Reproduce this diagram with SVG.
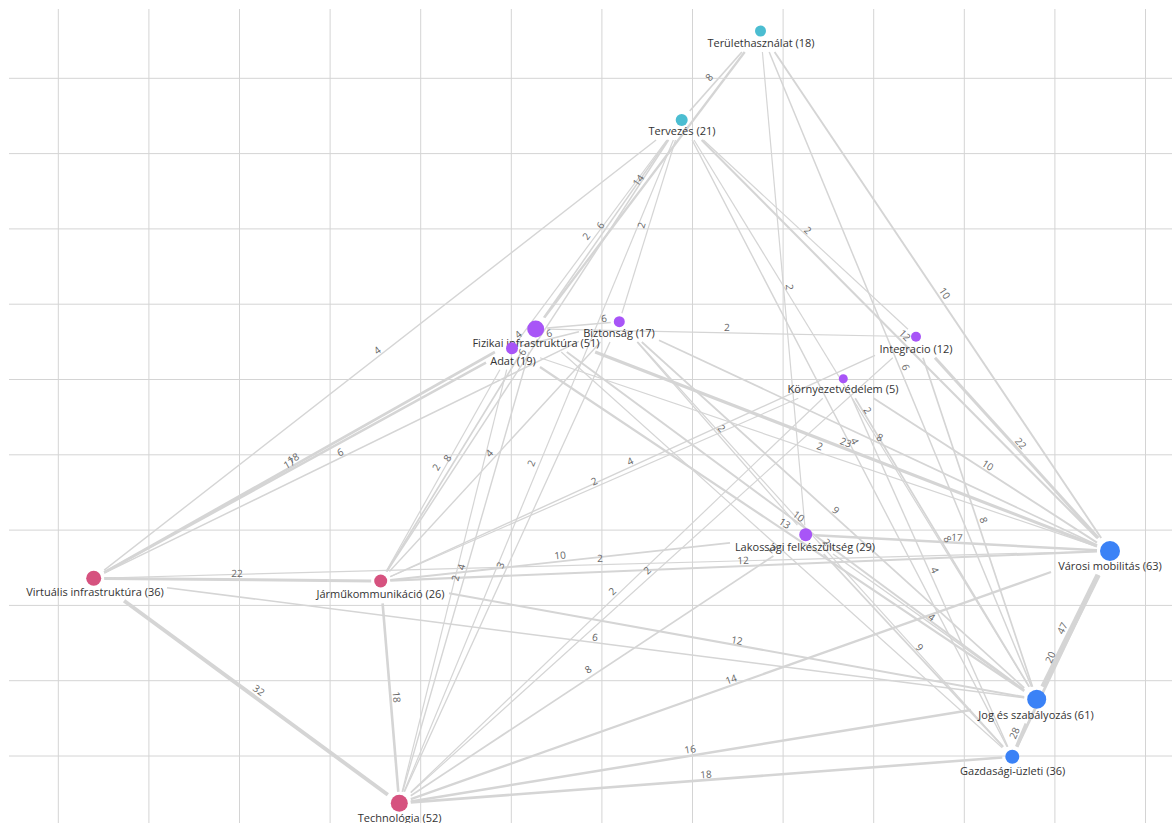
<svg xmlns="http://www.w3.org/2000/svg" width="1172" height="823" viewBox="0 0 1172 823">
<style>
.grid line{stroke:#d4d4d4;stroke-width:1}
#edges line{stroke:#d5d5d5;stroke-linecap:butt}
.w2{stroke-width:1.2}.w3{stroke-width:1.3}.w4{stroke-width:1.4}.w6{stroke-width:1.5}.w8{stroke-width:1.7}.w9{stroke-width:1.8}.w10{stroke-width:1.9}.w12{stroke-width:2.1}.w13{stroke-width:2.2}.w14{stroke-width:2.3}.w16{stroke-width:2.5}.w17{stroke-width:2.5}.w18{stroke-width:2.6}.w20{stroke-width:2.8}.w22{stroke-width:3}.w23{stroke-width:3.1}.w28{stroke-width:3.5}.w32{stroke-width:3.9}.w47{stroke-width:5.3}
.el{font-family:"Open Sans","Liberation Sans",sans-serif;font-size:10px;fill:#666;text-anchor:middle;dominant-baseline:central}
.nl{font-family:"Open Sans","Liberation Sans",sans-serif;font-size:11px;fill:#333;text-anchor:middle}
.teal{fill:#4bbdd1}.purple{fill:#a855f7}.blue{fill:#3b82f6}.pink{fill:#d6527f}
</style>
<rect width="1172" height="823" fill="#ffffff"/>
<g class="grid">
<line x1="58.3" y1="9" x2="58.3" y2="823"/><line x1="148.9" y1="9" x2="148.9" y2="823"/><line x1="239.5" y1="9" x2="239.5" y2="823"/><line x1="330.1" y1="9" x2="330.1" y2="823"/><line x1="420.7" y1="9" x2="420.7" y2="823"/><line x1="511.3" y1="9" x2="511.3" y2="823"/><line x1="601.9" y1="9" x2="601.9" y2="823"/><line x1="692.5" y1="9" x2="692.5" y2="823"/><line x1="783.1" y1="9" x2="783.1" y2="823"/><line x1="873.7" y1="9" x2="873.7" y2="823"/><line x1="964.3" y1="9" x2="964.3" y2="823"/><line x1="1054.9" y1="9" x2="1054.9" y2="823"/><line x1="1145.5" y1="9" x2="1145.5" y2="823"/>
<line x1="9" y1="78.3" x2="1172" y2="78.3"/><line x1="9" y1="153.6" x2="1172" y2="153.6"/><line x1="9" y1="228.9" x2="1172" y2="228.9"/><line x1="9" y1="304.2" x2="1172" y2="304.2"/><line x1="9" y1="379.5" x2="1172" y2="379.5"/><line x1="9" y1="454.8" x2="1172" y2="454.8"/><line x1="9" y1="530.1" x2="1172" y2="530.1"/><line x1="9" y1="605.4" x2="1172" y2="605.4"/><line x1="9" y1="680.7" x2="1172" y2="680.7"/><line x1="9" y1="756" x2="1172" y2="756"/>
</g>
<g id="edges">
<line class="w8" x1="741.9" y1="52" x2="689.7" y2="111"/>
<line class="w14" x1="744.7" y1="52" x2="544.4" y2="317.5"/>
<line class="w2" x1="762.4" y1="52" x2="804.8" y2="525.2"/>
<line class="w6" x1="769.2" y1="52" x2="1031.5" y2="686.8"/>
<line class="w10" x1="774.6" y1="52" x2="1101.2" y2="538"/>
<line class="w4" x1="656.1" y1="140" x2="104.2" y2="570.1"/>
<line class="w6" x1="667.7" y1="140" x2="543.7" y2="317.5"/>
<line class="w2" x1="666.9" y1="140" x2="518.7" y2="339.3"/>
<line class="w2" x1="675.5" y1="140" x2="621.9" y2="313.2"/>
<line class="w2" x1="673.4" y1="140" x2="404" y2="791.8"/>
<line class="w2" x1="703.4" y1="140" x2="908" y2="329.3"/>
<line class="w12" x1="701.6" y1="140" x2="1097.1" y2="538"/>
<line class="w2" x1="694" y1="140" x2="1029" y2="686.8"/>
<line class="w4" x1="692.1" y1="140" x2="1007.1" y2="746.7"/>
<line class="w4" x1="507.4" y1="352" x2="521" y2="341"/>
<line class="w6" x1="521" y1="346.1" x2="579" y2="331.7"/>
<line class="w6" x1="547.2" y1="328" x2="610.8" y2="322.4"/>
<line class="w2" x1="547.2" y1="329.2" x2="908" y2="336.5"/>
<line class="w18" x1="104.2" y1="572.4" x2="494.9" y2="352"/>
<line class="w17" x1="104.2" y1="572.5" x2="486" y2="362.6"/>
<line class="w6" x1="104.2" y1="573.2" x2="579" y2="341.4"/>
<line class="w8" x1="386.6" y1="571.5" x2="521.6" y2="352"/>
<line class="w2" x1="386.1" y1="571.5" x2="499.9" y2="369.7"/>
<line class="w4" x1="389.4" y1="571.5" x2="600.6" y2="342"/>
<line class="w6" x1="668.6" y1="140" x2="386.9" y2="571.5"/>
<line class="w4" x1="402.6" y1="791.8" x2="529.1" y2="352"/>
<line class="w2" x1="402.1" y1="791.8" x2="506.7" y2="369.7"/>
<line class="w3" x1="404.5" y1="791.8" x2="610" y2="342"/>
<line class="w2" x1="390.2" y1="576.8" x2="798.3" y2="398.3"/>
<line class="w4" x1="390.2" y1="576.7" x2="875" y2="355.4"/>
<line class="w2" x1="410.8" y1="792.3" x2="822.8" y2="398.3"/>
<line class="w2" x1="410.8" y1="792.9" x2="892.8" y2="357.7"/>
<line class="w8" x1="410.8" y1="795.7" x2="773.4" y2="556"/>
<line class="w6" x1="167" y1="587.7" x2="1024.2" y2="697.7"/>
<line class="w12" x1="449" y1="593.3" x2="1024.2" y2="697.1"/>
<line class="w14" x1="410.8" y1="799.2" x2="1051" y2="572"/>
<line class="w16" x1="410.8" y1="801.4" x2="971" y2="710"/>
<line class="w18" x1="410.8" y1="802.4" x2="1002.3" y2="757.5"/>
<line class="w32" x1="124.1" y1="600.7" x2="387.8" y2="794.8"/>
<line class="w18" x1="382.6" y1="603.3" x2="398.3" y2="791.8"/>
<line class="w22" x1="104.2" y1="578.4" x2="371.2" y2="580.9"/>
<line class="w47" x1="1098.1" y1="575" x2="1042.9" y2="686.8"/>
<line class="w20" x1="1098.6" y1="575" x2="1017.1" y2="746.7"/>
<line class="w28" x1="1026.3" y1="723.7" x2="1016.6" y2="746.7"/>
<line class="w17" x1="815.2" y1="535.2" x2="1097" y2="550.3"/>
<line class="w8" x1="855.2" y1="398.3" x2="1029.2" y2="686.8"/>
<line class="w8" x1="923" y1="357.7" x2="1032.5" y2="686.8"/>
<line class="w22" x1="935" y1="357.7" x2="1098.3" y2="538"/>
<line class="w10" x1="873.6" y1="398.3" x2="1097" y2="542.6"/>
<line class="w23" x1="595.2" y1="352" x2="1097" y2="546"/>
<line class="w2" x1="540" y1="357.8" x2="1097" y2="546.6"/>
<line class="w8" x1="659" y1="340.2" x2="1097" y2="545"/>
<line class="w2" x1="637.1" y1="342" x2="797.4" y2="525.2"/>
<line class="w2" x1="104.2" y1="578" x2="1097" y2="551.3"/>
<line class="w10" x1="390.2" y1="580" x2="730" y2="542.9"/>
<line class="w12" x1="390.2" y1="580.6" x2="1097" y2="551.5"/>
<line class="w4" x1="833" y1="554" x2="1024.2" y2="690.4"/>
<line class="w9" x1="823.7" y1="554" x2="1003" y2="746.7"/>
<line class="w9" x1="641.8" y1="342" x2="1024.2" y2="688"/>
<line class="w10" x1="566.8" y1="352" x2="1024.2" y2="690.1"/>
<line class="w13" x1="540" y1="367" x2="1024.2" y2="691"/>
<line class="w4" x1="852.1" y1="398.3" x2="1007.8" y2="746.7"/>
<line class="w2" x1="637.7" y1="342" x2="1003.3" y2="746.7"/>
<line class="w2" x1="561.3" y1="352" x2="1002.3" y2="747.7"/>
</g>
<g id="edge-labels">
<text class="el" x="709" y="77" transform="rotate(-48.5 709 77)">8</text>
<text class="el" x="638" y="180" transform="rotate(-53 638 180)">14</text>
<text class="el" x="790" y="287" transform="rotate(84.9 790 287)">2</text>
<text class="el" x="906" y="367" transform="rotate(67.5 906 367)">6</text>
<text class="el" x="945" y="293" transform="rotate(56.1 945 293)">10</text>
<text class="el" x="377" y="350" transform="rotate(-37.9 377 350)">4</text>
<text class="el" x="600" y="225" transform="rotate(-55 600 225)">6</text>
<text class="el" x="586" y="236" transform="rotate(-53.4 586 236)">2</text>
<text class="el" x="641" y="225" transform="rotate(-72.8 641 225)">2</text>
<text class="el" x="531" y="463" transform="rotate(-67.5 531 463)">2</text>
<text class="el" x="808" y="230" transform="rotate(42.8 808 230)">2</text>
<text class="el" x="905" y="335" transform="rotate(45.2 905 335)">12</text>
<text class="el" x="868" y="410" transform="rotate(58.5 868 410)">2</text>
<text class="el" x="855" y="441" transform="rotate(62.6 855 441)">4</text>
<text class="el" x="518" y="334" transform="rotate(-39.2 518 334)">4</text>
<text class="el" x="549" y="333" transform="rotate(-13.9 549 333)">6</text>
<text class="el" x="604" y="318" transform="rotate(-5 604 318)">6</text>
<text class="el" x="727" y="327" transform="rotate(1.2 727 327)">2</text>
<text class="el" x="293" y="458" transform="rotate(-29.4 293 458)">18</text>
<text class="el" x="289" y="463" transform="rotate(-28.8 289 463)">17</text>
<text class="el" x="340" y="452" transform="rotate(-26 340 452)">6</text>
<text class="el" x="447" y="458" transform="rotate(-58.4 447 458)">8</text>
<text class="el" x="436" y="467" transform="rotate(-60.6 436 467)">2</text>
<text class="el" x="489" y="453" transform="rotate(-47.4 489 453)">4</text>
<text class="el" x="522" y="352" transform="rotate(-56.9 522 352)">6</text>
<text class="el" x="461" y="567" transform="rotate(-74 461 567)">4</text>
<text class="el" x="455" y="578" transform="rotate(-76.1 455 578)">2</text>
<text class="el" x="500" y="565" transform="rotate(-65.4 500 565)">3</text>
<text class="el" x="594" y="481" transform="rotate(-23.6 594 481)">2</text>
<text class="el" x="630" y="461" transform="rotate(-24.5 630 461)">4</text>
<text class="el" x="612" y="591" transform="rotate(-43.7 612 591)">2</text>
<text class="el" x="647" y="570" transform="rotate(-42.1 647 570)">2</text>
<text class="el" x="588" y="669" transform="rotate(-33.5 588 669)">8</text>
<text class="el" x="595" y="637" transform="rotate(7.3 595 637)">6</text>
<text class="el" x="737" y="640" transform="rotate(10.2 737 640)">12</text>
<text class="el" x="731" y="679" transform="rotate(-19.5 731 679)">14</text>
<text class="el" x="690" y="749" transform="rotate(-9.3 690 749)">16</text>
<text class="el" x="706" y="774" transform="rotate(-4.3 706 774)">18</text>
<text class="el" x="259" y="690" transform="rotate(36.4 259 690)">32</text>
<text class="el" x="397" y="697" transform="rotate(85.2 397 697)">18</text>
<text class="el" x="237" y="573" transform="rotate(0.5 237 573)">22</text>
<text class="el" x="1062" y="628" transform="rotate(-63.7 1062 628)">47</text>
<text class="el" x="1050" y="657" transform="rotate(-64.6 1050 657)">20</text>
<text class="el" x="1014" y="733" transform="rotate(-67 1014 733)">28</text>
<text class="el" x="957" y="537" transform="rotate(3.1 957 537)">17</text>
<text class="el" x="948" y="539" transform="rotate(58.9 948 539)">8</text>
<text class="el" x="984" y="520" transform="rotate(71.6 984 520)">8</text>
<text class="el" x="1021" y="443" transform="rotate(47.8 1021 443)">22</text>
<text class="el" x="988" y="465" transform="rotate(32.9 988 465)">10</text>
<text class="el" x="846" y="442" transform="rotate(21.1 846 442)">23</text>
<text class="el" x="820" y="446" transform="rotate(18.7 820 446)">2</text>
<text class="el" x="880" y="437" transform="rotate(25 880 437)">8</text>
<text class="el" x="722" y="428" transform="rotate(48.8 722 428)">2</text>
<text class="el" x="600" y="558" transform="rotate(-1.5 600 558)">2</text>
<text class="el" x="560" y="555" transform="rotate(-6.2 560 555)">10</text>
<text class="el" x="743" y="560" transform="rotate(-2.4 743 560)">12</text>
<text class="el" x="932" y="617" transform="rotate(35.5 932 617)">4</text>
<text class="el" x="920" y="647" transform="rotate(47.1 920 647)">9</text>
<text class="el" x="836" y="510" transform="rotate(42.1 836 510)">9</text>
<text class="el" x="799" y="516" transform="rotate(36.5 799 516)">10</text>
<text class="el" x="785" y="523" transform="rotate(33.8 785 523)">13</text>
<text class="el" x="935" y="570" transform="rotate(65.9 935 570)">4</text>
<text class="el" x="827" y="542" transform="rotate(47.9 827 542)">2</text>
<text class="el" x="773" y="549" transform="rotate(41.9 773 549)">2</text>
</g>
<g id="node-teruelethasznalat"><circle class="teal" cx="760.5" cy="31" r="5.5"/><text class="nl" x="761" y="47">Területhasználat (18)</text></g>
<g id="node-tervezes"><circle class="teal" cx="681.7" cy="120" r="6"/><text class="nl" x="682" y="135">Tervezés (21)</text></g>
<g id="node-fizikai"><circle class="purple" cx="535.7" cy="329" r="8.5"/><text class="nl" x="536" y="347">Fizikai infrastruktúra (51)</text></g>
<g id="node-adat"><circle class="purple" cx="512" cy="348.3" r="6"/><text class="nl" x="513" y="364.5">Adat (19)</text></g>
<g id="node-biztonsag"><circle class="purple" cx="619.3" cy="321.7" r="5.5"/><text class="nl" x="619" y="337">Biztonság (17)</text></g>
<g id="node-integracio"><circle class="purple" cx="916" cy="336.7" r="5"/><text class="nl" x="916" y="352.5">Integracio (12)</text></g>
<g id="node-kornyezetvedelem"><circle class="purple" cx="843.3" cy="378.7" r="4.5"/><text class="nl" x="843" y="393">Környezetvédelem (5)</text></g>
<g id="node-lakossagi"><circle class="purple" cx="805.7" cy="534.7" r="6.5"/><text class="nl" x="805" y="551">Lakossági felkészültség (29)</text></g>
<g id="node-varosi"><circle class="blue" cx="1110" cy="551" r="10"/><text class="nl" x="1110" y="570">Városi mobilitás (63)</text></g>
<g id="node-jog"><circle class="blue" cx="1036.7" cy="699.3" r="9.5"/><text class="nl" x="1036" y="718.5">Jog és szabályozás (61)</text></g>
<g id="node-gazdasagi"><circle class="blue" cx="1012.3" cy="756.7" r="7"/><text class="nl" x="1012.7" y="774.5">Gazdasági-üzleti (36)</text></g>
<g id="node-technologia"><circle class="pink" cx="399.3" cy="803.3" r="8.5"/><text class="nl" x="399.7" y="822">Technológia (52)</text></g>
<g id="node-jarmukommunikacio"><circle class="pink" cx="380.7" cy="581" r="6.5"/><text class="nl" x="380.5" y="598">Járműkommunikáció (26)</text></g>
<g id="node-virtualis"><circle class="pink" cx="93.7" cy="578.3" r="7.5"/><text class="nl" x="95" y="595.5">Virtuális infrastruktúra (36)</text></g>
</svg>
